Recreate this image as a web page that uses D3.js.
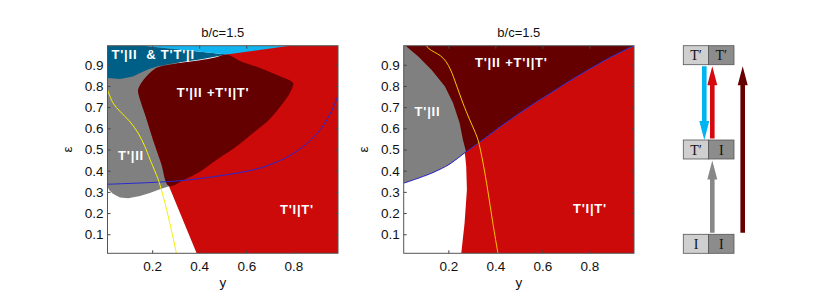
<!DOCTYPE html>
<html><head><meta charset="utf-8">
<script src="https://cdn.jsdelivr.net/npm/d3@7"></script>
<style>
html,body{margin:0;padding:0;background:#fff;}
svg{display:block;}
</style></head>
<body>
<script>
// ---------- DATA ----------
const xTicks = [0.2, 0.4, 0.6, 0.8];
const yTicks = [0.1, 0.2, 0.3, 0.4, 0.5, 0.6, 0.7, 0.8, 0.9];
const titles = ["b/c=1.5", "b/c=1.5"];

// Left panel region boundaries [y, epsilon]
const leftGray = [[0.01,0.99],[0.318,0.99],[0.297,0.328],[0.268,0.325],[0.233,0.312],[0.190,0.295],[0.148,0.281],[0.098,0.270],[0.063,0.274],[0.033,0.291],[0.016,0.310],[0.01,0.326]];
const leftRed = [[0.389,0.01],[0.271,0.328],[0.203,0.546],[0.139,0.782],[0.517,0.948],[0.573,0.99],[0.99,0.99],[0.99,0.01]];
const leftTeal = [[0.01,0.99],[0.160,0.99],[0.517,0.948],[0.403,0.925],[0.304,0.910],[0.224,0.893],[0.190,0.881],[0.160,0.867],[0.118,0.845],[0.063,0.833],[0.01,0.837]];
const leftLightBlue = [[0.160,0.99],[0.517,0.948],[0.786,0.99]];
const leftDarkRed = [[0.271,0.328],[0.237,0.440],[0.204,0.546],[0.171,0.660],[0.140,0.770],[0.141,0.786],[0.152,0.812],[0.176,0.846],[0.199,0.870],[0.224,0.888],[0.304,0.906],[0.403,0.921],[0.467,0.934],[0.517,0.948],[0.573,0.918],[0.658,0.885],[0.743,0.846],[0.786,0.826],[0.800,0.812],[0.797,0.795],[0.787,0.770],[0.772,0.743],[0.701,0.645],[0.620,0.570],[0.543,0.502],[0.470,0.448],[0.403,0.395],[0.332,0.355]];
const leftBlue = [[0.01,0.336],[0.190,0.344],[0.332,0.354],[0.488,0.376],[0.630,0.404],[0.700,0.428],[0.772,0.463],[0.820,0.496],[0.871,0.541],[0.914,0.593],[0.943,0.640],[0.969,0.697],[0.99,0.754]];
const leftYellow = [[0.01,0.782],[0.034,0.719],[0.063,0.680],[0.105,0.632],[0.140,0.578],[0.169,0.514],[0.190,0.455],[0.226,0.357],[0.247,0.278],[0.275,0.152],[0.303,0.01]];

// Right panel
const rightBlue = [[0.01,0.341],[0.128,0.388],[0.207,0.432],[0.269,0.484],[0.347,0.546],[0.419,0.606],[0.495,0.665],[0.566,0.718],[0.636,0.767],[0.707,0.817],[0.778,0.865],[0.891,0.936],[0.99,0.99]];
const rightRedEdge = [[0.255,0.01],[0.269,0.152],[0.279,0.310],[0.276,0.420],[0.27,0.486]];
const rightGrayEdge = [[0.01,0.99],[0.018,0.99],[0.072,0.939],[0.128,0.877],[0.185,0.798],[0.220,0.719],[0.248,0.625],[0.262,0.546],[0.275,0.490]];
const rightYellow = [[0.107,0.99],[0.118,0.975],[0.140,0.960],[0.167,0.942],[0.190,0.915],[0.210,0.875],[0.234,0.805],[0.262,0.719],[0.291,0.640],[0.310,0.592],[0.326,0.546],[0.347,0.440],[0.368,0.305],[0.389,0.155],[0.411,0.01]];

// Region labels [text, y, epsilon]
const leftLabels = [["T'|II  & T'T'|I",0.027,0.925],["T'|II +T'I|T'",0.304,0.750],["T'|II",0.055,0.450],["T'I|T'",0.743,0.194]];
const rightLabels = [["T'|II +T'I|T'",0.313,0.891],["T'|II",0.056,0.659],["T'I|T'",0.730,0.198]];

// Diagram
const states = ["TT","TI","II"];
const stateCells = {TT:["T\u2032","T\u2032"], TI:["T\u2032","I"], II:["I","I"]};
const transitions = [
  {from:"TT", to:"TI", color:"#00b4f0", lane:"a"},
  {from:"TI", to:"TT", color:"#d40a10", lane:"b"},
  {from:"II", to:"TI", color:"#888888", lane:"b"},
  {from:"II", to:"TT", color:"#660000", lane:"c"}
];

// ---------- STYLE ----------
const C = {red:"#cc0a0a", dark:"#650000", gray:"#808080", teal:"#005f86", light:"#10b4f0", blue:"#2828d0"};

const W = 830, H = 298;
const svg = d3.select("body").append("svg").attr("width", W).attr("height", H);

const yS = d3.scaleLinear().domain([0.01,0.99]).range([253.3,45.7]);
const xL = d3.scaleLinear().domain([0.01,0.99]).range([107.5,338]);
const xR = d3.scaleLinear().domain([0.01,0.99]).range([403.7,634]);

function panel(x, id, title, layers, lines, labels) {
  const g = svg.append("g");
  const [x0, x1] = x.range();
  const [yb, yt] = yS.range();
  g.append("clipPath").attr("id", id).append("rect")
    .attr("x", x0).attr("y", yt).attr("width", x1 - x0).attr("height", yb - yt);
  const area = g.append("g").attr("clip-path", `url(#${id})`);
  const poly = d3.line().x(d => x(d[0])).y(d => yS(d[1])).curve(d3.curveLinearClosed);
  const smooth = d3.line().x(d => x(d[0])).y(d => yS(d[1])).curve(d3.curveCatmullRomClosed.alpha(0.5));
  const ln = d3.line().x(d => x(d[0])).y(d => yS(d[1])).curve(d3.curveCatmullRom.alpha(0.5));
  layers.forEach(([pts, col, sm]) => area.append("path").attr("d", (sm ? smooth : poly)(pts)).attr("fill", col));
  lines.forEach(([pts, col, w]) => area.append("path").attr("d", ln(pts)).attr("fill", "none").attr("stroke", col).attr("stroke-width", w));
  labels.forEach(([t, a, b]) => area.append("text").attr("x", x(a)).attr("y", yS(b))
     .attr("fill", "#fff").attr("font-family", "Liberation Sans, Arial, sans-serif")
     .attr("font-weight", "bold").attr("font-size", 13).attr("letter-spacing", 0.8)
     .style("white-space", "pre").text(t));

  // axes
  const fmt = d3.format(".1f");
  const ax = (a) => a.tickSizeOuter(0);
  g.append("g").attr("transform", `translate(0,${yb})`)
    .call(ax(d3.axisBottom(x).tickValues(xTicks).tickFormat(fmt).tickSizeInner(-3).tickPadding(8)));
  g.append("g").attr("transform", `translate(0,${yt})`)
    .call(ax(d3.axisTop(x).tickValues(xTicks).tickFormat("").tickSizeInner(-3)));
  g.append("g").attr("transform", `translate(${x0},0)`)
    .call(ax(d3.axisLeft(yS).tickValues(yTicks).tickFormat(fmt).tickSizeInner(-3).tickPadding(4)));
  g.append("g").attr("transform", `translate(${x1},0)`)
    .call(ax(d3.axisRight(yS).tickValues(yTicks).tickFormat("").tickSizeInner(-3)));
  g.selectAll(".domain").remove();
  g.selectAll(".tick line").attr("stroke", "#444");
  g.selectAll(".tick text").attr("font-family", "Liberation Sans, Arial, sans-serif").attr("font-size", 13.5).attr("fill", "#111");
  g.append("rect").attr("x", x0).attr("y", yt).attr("width", x1 - x0).attr("height", yb - yt)
    .attr("fill", "none").attr("stroke", "#555").attr("stroke-width", 1);

  const cx = (x0 + x1) / 2;
  g.append("text").attr("x", cx).attr("y", 37).attr("text-anchor", "middle")
    .attr("font-family", "Liberation Sans, Arial, sans-serif").attr("font-size", 13).attr("fill", "#111").text(title);
  g.append("text").attr("x", cx).attr("y", 287).attr("text-anchor", "middle")
    .attr("font-family", "Liberation Sans, Arial, sans-serif").attr("font-size", 13.5).attr("fill", "#111").text("y");
  g.append("text").attr("transform", `translate(${x0 - 36},${(yb + yt) / 2}) rotate(-90)`).attr("text-anchor", "middle")
    .attr("font-family", "Liberation Sans, Arial, sans-serif").attr("font-size", 13.5).attr("fill", "#111").text("\u03b5");
}

panel(xL, "clipL", titles[0],
  [[leftGray, C.gray], [leftRed, C.red], [leftTeal, C.teal], [leftLightBlue, C.light], [leftDarkRed, C.dark, true]],
  [[leftBlue, C.blue, 1], [leftYellow, "#f4f000", 1]],
  leftLabels);

const rightRed = rightRedEdge.concat(rightBlue.filter(d => d[0] > 0.27), [[0.99,0.01]]);
const rightDark = [[0.01,0.99],[0.99,0.99]].concat(rightBlue.slice().reverse());
const rightGray = rightGrayEdge.concat(rightBlue.filter(d => d[0] < 0.275).reverse());
panel(xR, "clipR", titles[1],
  [[rightRed, C.red], [rightDark, C.dark], [rightGray, C.gray]],
  [[rightBlue, C.blue, 1], [rightYellow, "#f5c800", 1]],
  rightLabels);

// ---------- DIAGRAM ----------
const dg = svg.append("g");
const sY = d3.scalePoint().domain(states).range([45.7, 234.3]);
const boxH = 19;
const cellX = d3.scaleBand().domain([0,1]).range([683.3, 734]);
const laneX = {a:704.3, b:712.3, c:742.7};

states.forEach(s => {
  stateCells[s].forEach((t, i) => {
    dg.append("rect").attr("x", cellX(i)).attr("y", sY(s)).attr("width", cellX.bandwidth()).attr("height", boxH)
      .attr("fill", i === 0 ? "#cfcfcf" : "#8c8c8c").attr("stroke", "#555").attr("stroke-width", 0.8);
    dg.append("text").attr("x", cellX(i) + cellX.bandwidth() / 2).attr("y", sY(s) + 14.5)
      .attr("text-anchor", "middle").attr("font-family", "Liberation Serif, Times New Roman, serif")
      .attr("font-size", 14).attr("fill", "#111").text(t);
  });
});

transitions.forEach(tr => {
  const up = sY(tr.to) < sY(tr.from);
  const x = laneX[tr.lane];
  let base, tip;
  if (up) { base = sY(tr.from) - 1.5; tip = sY(tr.to) + boxH + 1.5; }
  else { base = sY(tr.from) + boxH + 1.5; tip = sY(tr.to); }
  const dir = up ? 1 : -1;
  const hl = 19, hw = 5, sw = 2.3;
  const hb = tip + dir * hl;
  const pts = [[x - sw, base], [x - sw, hb], [x - hw, hb], [x, tip], [x + hw, hb], [x + sw, hb], [x + sw, base]];
  dg.append("path").attr("d", d3.line()(pts) + "Z").attr("fill", tr.color);
});
</script>
</body></html>
